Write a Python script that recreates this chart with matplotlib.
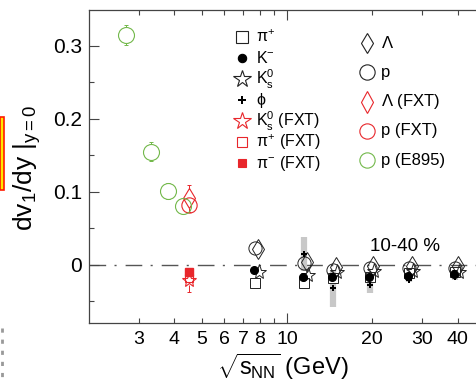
import numpy as np
import matplotlib.pyplot as plt
from matplotlib.patches import Rectangle
from matplotlib.lines import Line2D

plt.rcParams['font.family'] = ['Liberation Sans', 'DejaVu Sans']
plt.rcParams['mathtext.fontset'] = 'custom'
plt.rcParams['mathtext.rm'] = 'Liberation Sans'
plt.rcParams['mathtext.it'] = 'Liberation Sans'
plt.rcParams['mathtext.sf'] = 'Liberation Sans'
plt.rcParams['mathtext.bf'] = 'Liberation Sans:bold'

# STAR BES energies (GeV)
bes_energy = [7.7, 11.5, 14.5, 19.6, 27, 39]
p_v1 = [0.023, 0.003, -0.007, -0.004, -0.004, -0.004]
lam_v1 = [0.022, 0.004, -0.003, -0.001, -0.001, -0.001]
kminus_v1 = [-0.007, -0.016, -0.016, -0.017, -0.015, -0.012]
ks0_v1 = [-0.0096, -0.014, -0.010, -0.008, -0.008, -0.009]
piplus_v1 = [-0.025, -0.025, -0.018, -0.016, -0.011, -0.009]

phi_energy = [11.5, 14.5, 19.6, 27, 39]
phi_v1 = [0.015, -0.032, -0.027, -0.020, -0.017]
phi_sys = [0.023, 0.025, 0.011, 0.004, 0.003]

# FXT 4.5 GeV
fxt_energy = [4.5]
fxt_lam = [0.091]
fxt_lam_err = [0.0185]
fxt_p = [0.082]
fxt_p_err = [0.004]
fxt_ks0 = [-0.0205]
fxt_ks0_err = [0.016]
fxt_piplus = [-0.018]
fxt_piminus = [-0.010]

# E895 protons
e895_energy = [2.7, 3.3, 3.8, 4.3]
e895_p = [0.315, 0.155, 0.101, 0.080]
e895_err = [0.014, 0.013, 0.011, 0.004]

xticks_minor = [3, 4, 5, 6, 7, 8, 9, 20, 30, 40]

red = '#e8262b'
green = '#72b84a'
blk = '#222222'

fig = plt.figure(figsize=(4.77, 3.84), dpi=100)
W, H = 477, 384
ax = fig.add_axes([89 / W, (H - 323) / H, (W - 89) / W, (323 - 10) / H])
ax.set_xscale('log')
ax.set_xlim(2.0, 46.8)
ax.set_ylim(-0.0795, 0.349)

ax.axhline(0, color='#555555', lw=1.0, ls=(0, (12, 6, 1.5, 6.5)), zorder=1)


def sh(xs, f):
    return [x * f for x in xs]


def outer_err(xs, ys, errs, r_px, color):
    # error bars drawn only outside the open marker, as in the original
    ppu = ax.transData.transform((1, 1))[1] - ax.transData.transform((1, 0))[1]
    r = r_px / ppu
    for xi, yi, ei in zip(xs, ys, errs):
        if ei < 0.9 * r:
            continue
        ax.vlines([xi, xi], [yi + r, yi - ei], [yi + ei, yi - r], color=color, lw=0.7, zorder=3)
        ax.plot([xi, xi], [yi + ei, yi - ei], '_', ms=3.5, mew=0.7, color=color, zorder=3)


# systematic band for phi
ax.errorbar(phi_energy, phi_v1, yerr=phi_sys, fmt='none', ecolor='#c8c8c8',
            elinewidth=4.5, capsize=0, zorder=2)

ax.plot(bes_energy, piplus_v1, 's', ms=7, mfc='white', mec=blk, mew=0.7, zorder=3)
ax.plot(bes_energy, p_v1, 'o', ms=9.5, mfc='none', mec=blk, mew=0.7, zorder=4)
ax.plot(sh(bes_energy, 1.025), lam_v1, 'd', ms=10, mfc='none', mec=blk, mew=0.7, zorder=4)
ax.plot(sh(bes_energy, 1.033), ks0_v1, '*', ms=11, mfc='none', mec=blk, mew=0.7, zorder=5)
ax.plot(sh(bes_energy, 0.993), kminus_v1, 'o', ms=5.5, color='black', zorder=6)
ax.plot(phi_energy, phi_v1, 'P', ms=5, color='black', mew=0, zorder=6)

# FXT
outer_err(fxt_energy, fxt_lam, fxt_lam_err, 9.5, red)
ax.plot(fxt_energy, fxt_lam, 'd', ms=10, mfc='none', mec=red, mew=0.8, zorder=4)
ax.plot(fxt_energy, fxt_p, 'o', ms=11, mfc='none', mec=red, mew=0.8, zorder=4)
ax.plot(fxt_energy, fxt_piplus, 's', ms=6, mfc='white', mec=red, mew=0.8, zorder=3)
outer_err(fxt_energy, fxt_ks0, fxt_ks0_err, 5, red)
ax.plot(fxt_energy, fxt_ks0, '*', ms=10, mfc='none', mec=red, mew=0.8, zorder=5)
ax.plot(fxt_energy, fxt_piminus, 's', ms=5.5, color=red, zorder=6)

# E895
outer_err(e895_energy, e895_p, e895_err, 8, green)
ax.plot(e895_energy, e895_p, 'o', ms=11.5, mfc='none', mec=green, mew=0.8, zorder=4)

# ticks: 10 is the only major (long) tick, the others short but labelled
ax.set_xticks([10])
ax.set_xticklabels(['10'])
ax.set_xticks(xticks_minor, minor=True)
ax.xaxis.set_minor_formatter(plt.FuncFormatter(lambda v, p: '' if round(v) == 9 else '%d' % round(v)))
ax.set_yticks([0, 0.1, 0.2, 0.3])
ax.set_yticklabels(['0', '0.1', '0.2', '0.3'])
ax.set_yticks([-0.05, 0.05, 0.15, 0.25], minor=True)
ax.tick_params(axis='both', which='both', direction='in', top=True, right=False,
               color='#444444', width=0.8)
ax.tick_params(axis='both', which='major', length=7)
ax.tick_params(axis='both', which='minor', length=3.5)
ax.tick_params(axis='y', which='both', labelsize=15, pad=5)
ax.tick_params(axis='x', which='both', labelsize=14, pad=6)

for s in ['left', 'bottom', 'top']:
    ax.spines[s].set_color('#444444')
    ax.spines[s].set_linewidth(0.9)
ax.spines['right'].set_visible(False)

ax.set_xlabel(r'$\sqrt{s_{\rm NN}}$ (GeV)', fontsize=17, labelpad=2)
fig.text(27 / W, 1 - 168 / H, r'dv$_1$/dy $|_{y=0}$', rotation=90, fontsize=19,
         ha='center', va='center')

ax.text(0.814, 0.243, '10-40 %', transform=ax.transAxes, fontsize=13.5,
        ha='center', va='center')

# legend column 1
col1 = [
    ('s', 8, 'white', blk, r'$\pi^{+}$'),
    ('o', 6, 'black', 'black', r'K$^{-}$'),
    ('*', 13, 'none', blk, r'K$^{0}_{\rm s}$'),
    ('P', 6, 'black', 'black', r'$\phi$'),
    ('*', 13, 'none', red, r'K$^{0}_{\rm s}$ (FXT)'),
    ('s', 7, 'white', red, r'$\pi^{+}$ (FXT)'),
    ('s', 6, red, red, r'$\pi^{-}$ (FXT)'),
]
for i, (m, ms, fc, ec, lab) in enumerate(col1):
    yy = 1 - (37 + 21 * i) / H
    fig.add_artist(Line2D([242 / W], [yy], marker=m, ms=ms, mfc=fc, mec=ec,
                          mew=0.8 if m != 'P' else 0, ls='none'))
    fig.text(256 / W, yy, lab, fontsize=11.5, ha='left', va='center')

col2 = [
    ('d', 10.5, blk, r'$\Lambda$'),
    ('o', 11, blk, 'p'),
    ('d', 11, red, r'$\Lambda$ (FXT)'),
    ('o', 11, red, 'p (FXT)'),
    ('o', 11, green, 'p (E895)'),
]
for i, (m, ms, ec, lab) in enumerate(col2):
    yy = 1 - (43 + 29.3 * i) / H
    fig.add_artist(Line2D([367 / W], [yy], marker=m, ms=ms, mfc='none', mec=ec,
                          mew=0.8, ls='none'))
    fig.text(381 / W, yy, lab, fontsize=12, ha='left', va='center')

# cropped artifacts at the left edge
fig.add_artist(Rectangle((0, 1 - 190 / H), 4 / W, 73 / H, transform=fig.transFigure,
                         facecolor='#ffe800', edgecolor='#ff1a00', lw=1.2))
fig.add_artist(Line2D([1.5 / W, 1.5 / W], [1 - 328 / H, 0], color='#999999', lw=2,
                      ls=(0, (1.5, 2.5))))

fig.savefig('out.png', dpi=100)
